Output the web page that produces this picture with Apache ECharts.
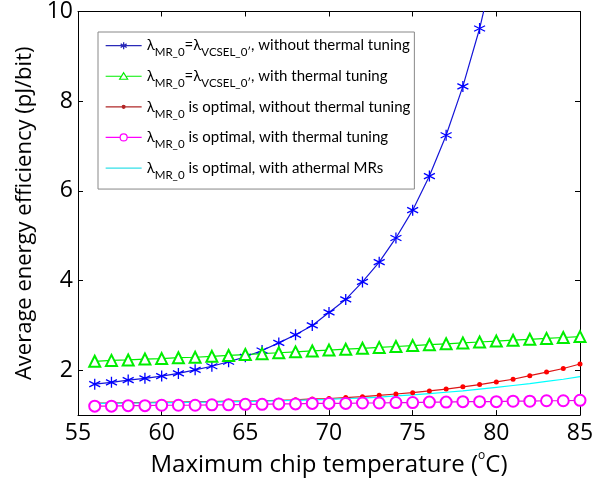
<!DOCTYPE html>
<html>
<head>
<meta charset="utf-8">
<script src="https://cdn.jsdelivr.net/npm/echarts@6/dist/echarts.min.js"></script>
<style>
  html, body { margin: 0; padding: 0; background: #fff; }
  #chart { width: 612px; height: 482px; }
</style>
</head>
<body>
<div id="chart"></div>
<script>
(function () {
    var temps = [56, 57, 58, 59, 60, 61, 62, 63, 64, 65, 66, 67, 68, 69, 70,
                 71, 72, 73, 74, 75, 76, 77, 78, 79, 80, 81, 82, 83, 84, 85];

    // lambda_MR_0 = lambda_VCSEL_0, without thermal tuning (goes off the top after 79)
    var fixedNoTuning = [1.69, 1.73, 1.78, 1.82, 1.87, 1.93, 2.01, 2.09, 2.19, 2.30,
                         2.44, 2.61, 2.79, 3.00, 3.29, 3.58, 3.97, 4.41, 4.95, 5.57,
                         6.33, 7.24, 8.33, 9.62, 11.2];
    var fixedTuning = [2.20, 2.22, 2.23, 2.25, 2.26, 2.28, 2.29, 2.31, 2.33, 2.35,
                       2.37, 2.39, 2.41, 2.43, 2.45, 2.47, 2.49, 2.51, 2.53, 2.55,
                       2.57, 2.59, 2.61, 2.63, 2.65, 2.67, 2.69, 2.71, 2.73, 2.75];
    var optNoTuning = [1.27, 1.27, 1.28, 1.28, 1.29, 1.29, 1.30, 1.30, 1.31, 1.31,
                       1.32, 1.33, 1.34, 1.36, 1.37, 1.39, 1.41, 1.44, 1.47, 1.50,
                       1.54, 1.58, 1.63, 1.68, 1.74, 1.80, 1.88, 1.96, 2.04, 2.14];
    var optTuning = [1.20, 1.20, 1.21, 1.21, 1.22, 1.22, 1.22, 1.23, 1.23, 1.24,
                     1.24, 1.25, 1.25, 1.26, 1.26, 1.26, 1.27, 1.27, 1.28, 1.28,
                     1.29, 1.29, 1.30, 1.30, 1.30, 1.31, 1.31, 1.32, 1.32, 1.33];
    var optAthermal = [1.26, 1.26, 1.27, 1.27, 1.28, 1.28, 1.29, 1.29, 1.30, 1.30,
                       1.31, 1.32, 1.33, 1.34, 1.35, 1.37, 1.38, 1.40, 1.43, 1.45,
                       1.48, 1.51, 1.54, 1.58, 1.62, 1.66, 1.70, 1.75, 1.80, 1.86];

    var yTicks = [2, 4, 6, 8, 10];
    var names = ['fixNo', 'fixYes', 'optNo', 'optYes', 'optAth'];
    var legendText = {
        fixNo: '{n|λ}{s|MR_0}{n|=λ}{s|VCSEL_0′}{n|, without thermal tuning}',
        fixYes: '{n|λ}{s|MR_0}{n|=λ}{s|VCSEL_0′}{n|, with thermal tuning}',
        optNo: '{n|λ}{s|MR_0}{n| is optimal, without thermal tuning}',
        optYes: '{n|λ}{s|MR_0}{n| is optimal, with thermal tuning}',
        optAth: '{n|λ}{s|MR_0}{n| is optimal, with athermal MRs}'
    };

    var font = 'Lato, "DejaVu Sans", sans-serif';
    var axisFont = '"Open Sans", "DejaVu Sans", sans-serif';
    var star = 'path://M0,-1L0,1M-0.87,-0.5L0.87,0.5M-0.87,0.5L0.87,-0.5';

    // legend icons: 36x14 box, corners pinned by the two bare moves
    var box = 'path://M0,0M36,14';
    var legendIcons = {
        fixNo: box + 'M0,7L36,7M18,3.5L18,10.5M15,5.2L21,8.8M15,8.8L21,5.2',
        fixYes: box + 'M0,7L15,7M21,7L36,7M18,3.5L22,10L14,10Z',
        optNo: box + 'M0,7L36,7M16.5,7A1.5,1.5 0 1,0 19.5,7A1.5,1.5 0 1,0 16.5,7Z',
        optYes: box + 'M0,7L14.5,7M21.5,7L36,7M21.5,7A3.5,3.5 0 1,0 14.5,7A3.5,3.5 0 1,0 21.5,7Z',
        optAth: box + 'M0,7L36,7'
    };
    var legendStyles = {
        fixNo: {color: '#2a2ab8', borderColor: '#2a2ab8', borderWidth: 1.3},
        fixYes: {color: '#fff', borderColor: '#00ee00', borderWidth: 1.2},
        optNo: {color: '#ee0000', borderColor: '#b02828', borderWidth: 1.2},
        optYes: {color: '#fff', borderColor: '#ff00ff', borderWidth: 1.2},
        optAth: {color: '#00ffff', borderColor: '#33e0e8', borderWidth: 1.2}
    };

    function pairs(vals) {
        var out = [];
        for (var i = 0; i < vals.length; i++) {
            out.push([temps[i], vals[i]]);
        }
        return out;
    }

    var legendData = [];
    for (var k = 0; k < names.length; k++) {
        legendData.push({
            name: names[k],
            icon: legendIcons[names[k]],
            itemStyle: legendStyles[names[k]]
        });
    }

    var chart = echarts.init(document.getElementById('chart'), null, {renderer: 'canvas'});

    var option = {
        animation: false,
        backgroundColor: '#fff',
        grid: {left: 78, right: 32, top: 10, bottom: 64},
        legend: {
            data: legendData,
            orient: 'vertical',
            left: 98,
            top: 32,
            itemWidth: 36,
            itemHeight: 14,
            itemGap: 10,
            padding: [6, 4, 8, 7],
            backgroundColor: '#fff',
            borderColor: '#888',
            borderWidth: 1,
            borderRadius: 0,
            selectedMode: false,
            formatter: function (name) { return legendText[name]; },
            textStyle: {
                fontFamily: font,
                rich: {
                    n: {fontFamily: font, fontSize: 15, color: '#000', lineHeight: 26},
                    s: {fontFamily: font, fontSize: 11.5, color: '#000', lineHeight: 12, verticalAlign: 'bottom'}
                }
            }
        },
        xAxis: [{
            type: 'value',
            min: 55, max: 85, interval: 5,
            name: 'Maximum chip temperature ({sup|o}C)',
            nameLocation: 'middle',
            nameGap: 32,
            nameTextStyle: {
                fontFamily: axisFont, fontSize: 24, color: '#000',
                rich: {sup: {fontFamily: axisFont, fontSize: 12, color: '#000', verticalAlign: 'top', lineHeight: 30}}
            },
            axisLine: {lineStyle: {color: '#000', width: 1}},
            axisTick: {inside: true, length: 5, lineStyle: {color: '#000'}},
            axisLabel: {fontFamily: axisFont, fontSize: 23, color: '#000', margin: 7},
            splitLine: {show: false}
        }, {
            type: 'value',
            position: 'top',
            min: 55, max: 85, interval: 5,
            axisLine: {lineStyle: {color: '#000', width: 1}},
            axisTick: {inside: true, length: 5, lineStyle: {color: '#000'}},
            axisLabel: {show: false},
            splitLine: {show: false}
        }],
        yAxis: [{
            type: 'value',
            min: 1, max: 10,
            name: 'Average energy efficiency (pJ/bit)',
            nameLocation: 'middle',
            nameGap: 40,
            nameTextStyle: {fontFamily: axisFont, fontSize: 22, color: '#000'},
            axisLine: {show: true, lineStyle: {color: '#000', width: 1}},
            axisTick: {inside: true, length: 5, customValues: yTicks, lineStyle: {color: '#000'}},
            axisLabel: {fontFamily: axisFont, fontSize: 23, color: '#000', margin: 5, customValues: yTicks},
            splitLine: {show: false}
        }, {
            type: 'value',
            position: 'right',
            min: 1, max: 10,
            axisLine: {show: true, lineStyle: {color: '#000', width: 1}},
            axisTick: {inside: true, length: 5, customValues: yTicks, lineStyle: {color: '#000'}},
            axisLabel: {show: false},
            splitLine: {show: false}
        }],
        series: [
            {
                name: 'fixNo', type: 'line', data: pairs(fixedNoTuning),
                symbol: star, symbolSize: 11, clip: true,
                lineStyle: {color: '#1515d8', width: 1.2},
                itemStyle: {color: '#0000ff', borderColor: '#0000ff', borderWidth: 1.3}
            },
            {
                name: 'fixYes', type: 'line', data: pairs(fixedTuning),
                symbol: 'emptyTriangle', symbolSize: 11,
                lineStyle: {color: '#00ee00', width: 1.2},
                itemStyle: {color: '#00ee00', borderColor: '#00ee00', borderWidth: 1}
            },
            {
                name: 'optNo', type: 'line', data: pairs(optNoTuning),
                symbol: 'circle', symbolSize: 5,
                lineStyle: {color: '#dd1515', width: 1.2},
                itemStyle: {color: '#ff0000'}
            },
            {
                name: 'optYes', type: 'line', data: pairs(optTuning),
                symbol: 'emptyCircle', symbolSize: 11,
                lineStyle: {color: '#e010e0', width: 1.2},
                itemStyle: {color: '#ff00ff', borderColor: '#ff00ff', borderWidth: 1}
            },
            {
                name: 'optAth', type: 'line', data: pairs(optAthermal),
                symbol: 'none',
                lineStyle: {color: '#00ffff', width: 1.2},
                itemStyle: {color: '#00ffff'}
            }
        ]
    };

    chart.setOption(option);
})();
</script>
</body>
</html>
